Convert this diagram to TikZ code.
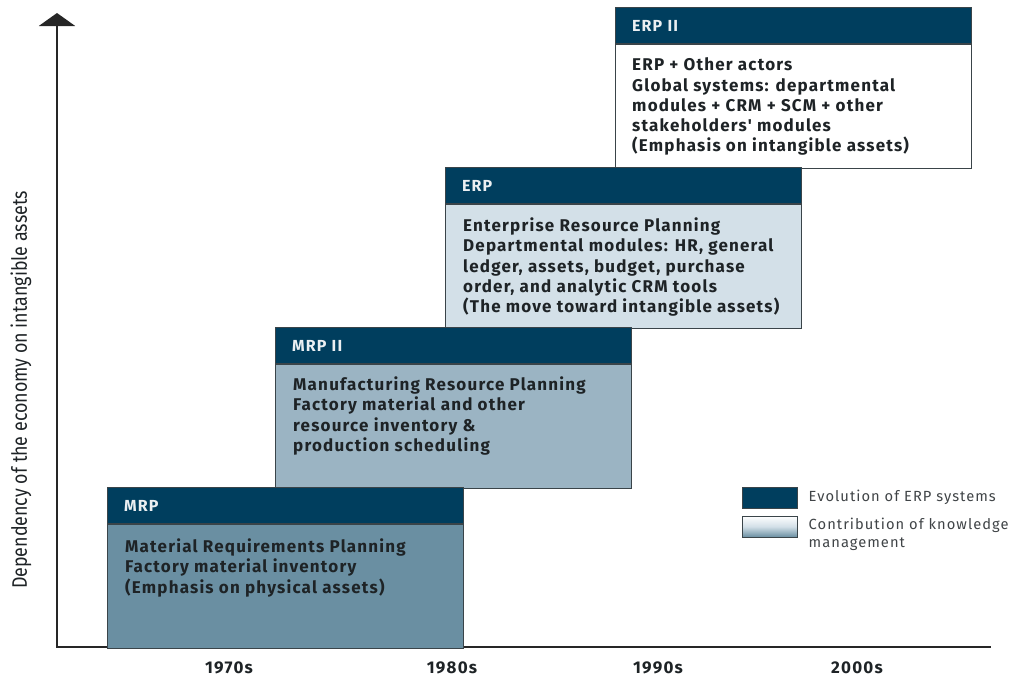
\documentclass[tikz,border=0pt]{standalone}
\usepackage{fontspec}
\setmainfont{Fira Sans}
\newfontfamily\spacedfont[LetterSpace=7]{Fira Sans}
\usetikzlibrary{positioning, arrows.meta}

\definecolor{navy}{HTML}{003E5E}
\definecolor{mrpfill}{HTML}{6A8FA2}
\definecolor{mrptwofill}{HTML}{9BB4C3}
\definecolor{erpfill}{HTML}{D3E0E8}
\definecolor{boxline}{HTML}{3A4449}
\definecolor{bodyink}{HTML}{1E2326}

\tikzset{
  stagehead/.style={rectangle, draw=boxline, line width=1.2pt, fill=navy,
    minimum width=356pt, minimum height=36pt, text width=323pt,
    inner xsep=16.5pt, align=left, text=white!92!navy,
    font=\spacedfont\fontsize{16}{18}\selectfont\bfseries},
  stagebody/.style={rectangle, draw=boxline, line width=1.2pt,
    minimum width=356pt, minimum height=124pt, inner sep=0pt},
  stagetext/.style={anchor=north west, inner sep=0pt, align=left, text=bodyink,
    font=\spacedfont\fontsize{17}{20.3}\selectfont\bfseries},
  yearlabel/.style={font=\spacedfont\fontsize{17}{18}\selectfont\bfseries, text=bodyink},
  keybox/.style={rectangle, draw=boxline, line width=1pt,
    minimum width=55pt, minimum height=21pt, inner sep=0pt},
  keytext/.style={anchor=west, inner sep=0pt, align=left, text=bodyink!85!white,
    font=\spacedfont\fontsize{14.7}{18.5}\selectfont}
}

\begin{document}
\begin{tikzpicture}[x=1pt, y=-1pt]
  \useasboundingbox (0,0) rectangle (1011,680);

  % axes
  \coordinate (ytip) at (57,13);
  \coordinate (origin) at (57,647);
  \coordinate (xend) at (991,647);
  \draw[line width=2.6pt, draw=black!85, {Triangle[width=36pt,length=13pt]}-]
    (ytip) -- (origin) -- (xend);
  \node[rotate=90, text=bodyink, font=\fontsize{21}{22}\selectfont] (ylabel) at (21,390)
    {\scalebox{0.85}[1]{Dependency of the economy on intangible assets}};

  % ERP II
  \node[stagehead, anchor=north west] (erptwohead) at (615,7) {ERP II};
  \node[stagebody, fill=white, below=0pt of erptwohead] (erptwobody) {};
  \node[stagetext] (erptwotext) at ([shift={(17,13.5)}]erptwobody.north west)
    {ERP + Other actors\\Global systems: departmental\\modules + CRM + SCM + other\\stakeholders' modules\\(Emphasis on intangible assets)};

  % ERP
  \node[stagehead, anchor=north west] (erphead) at (445,167) {ERP};
  \node[stagebody, fill=erpfill, below=0pt of erphead] (erpbody) {};
  \node[stagetext] (erptext) at ([shift={(18,13.5)}]erpbody.north west)
    {Enterprise Resource Planning\\Departmental modules: HR, general\\ledger, assets, budget, purchase\\order, and analytic CRM tools\\(The move toward intangible assets)};

  % MRP II
  \node[stagehead, anchor=north west] (mrptwohead) at (275,327) {MRP II};
  \node[stagebody, fill=mrptwofill, below=0pt of mrptwohead] (mrptwobody) {};
  \node[stagetext] (mrptwotext) at ([shift={(18,12.5)}]mrptwobody.north west)
    {Manufacturing Resource Planning\\Factory material and other\\resource inventory \&\\production scheduling};

  % MRP
  \node[stagehead, anchor=north west] (mrphead) at (107,487) {MRP};
  \node[stagebody, fill=mrpfill, below=0pt of mrphead] (mrpbody) {};
  \node[stagetext] (mrptext) at ([shift={(18,14.5)}]mrpbody.north west)
    {Material Requirements Planning\\Factory material inventory\\(Emphasis on physical assets)};

  % decades
  \node[yearlabel] (y70) at (229,668) {1970s};
  \node[yearlabel] (y80) at (452,668) {1980s};
  \node[yearlabel] (y90) at (658,668) {1990s};
  \node[yearlabel] (y00) at (857,668) {2000s};

  % key
  \node[keybox, fill=navy] (keyevol) at (769.5,497.5) {};
  \node[keybox, top color=white, bottom color=mrpfill, middle color=erpfill] (keyknow) at (769.5,526.5) {};
  \node[keytext] (evoltext) at ([xshift=11pt]keyevol.east) {Evolution of ERP systems};
  \node[keytext, anchor=north west] (knowtext) at ([shift={(11,-9)}]keyknow.east)
    {Contribution of knowledge\\management};
\end{tikzpicture}
\end{document}
